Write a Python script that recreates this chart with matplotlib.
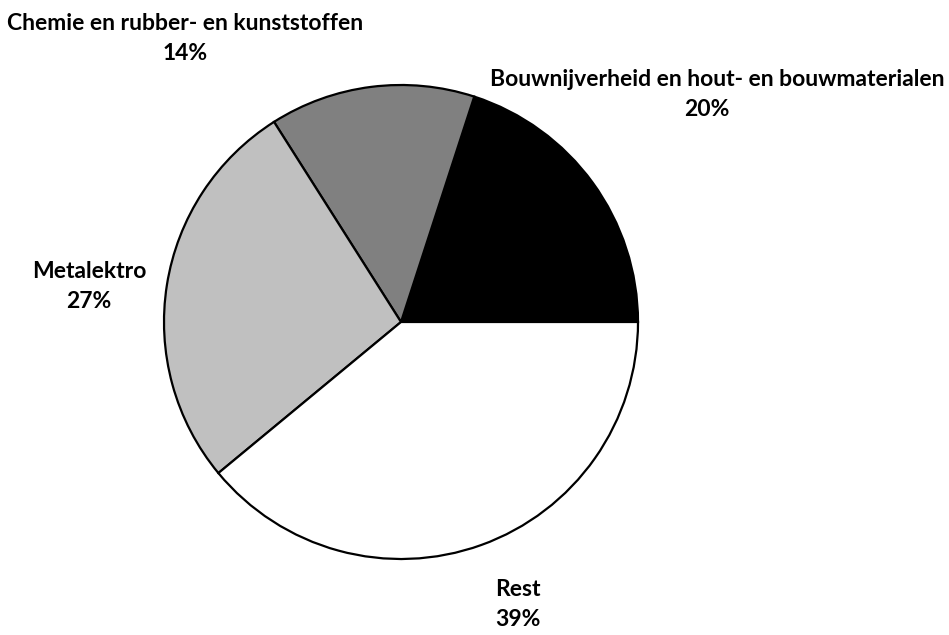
import matplotlib.pyplot as plt

labels = ['Bouwnijverheid en hout- en bouwmaterialen', 'Chemie en rubber- en kunststoffen',
          'Metalektro', 'Rest']
shares = [20, 14, 27, 39]
colors = ['#000000', '#808080', '#c0c0c0', '#ffffff']
# label anchor (pixel x, pixel y from top)
label_pos = [(717, 80), (185, 24), (89, 271), (518, 589)]

W, H = 949, 635
fig = plt.figure(figsize=(W / 100, H / 100), dpi=100)
ax = fig.add_axes([0, 0, 1, 1])

ax.pie(shares, colors=colors, startangle=0, counterclock=True,
       center=(401, H - 322), radius=237, frame=True,
       wedgeprops=dict(edgecolor='black', linewidth=1.6))
ax.set_xlim(0, W)
ax.set_ylim(0, H)
ax.set_aspect('equal')
ax.axis('off')

for lab, val, (x, y) in zip(labels, shares, label_pos):
    ax.text(x, H - y, lab, ha='center', va='center', fontsize=16.5,
            fontweight='bold', family='Lato')
    ax.text(x - (10 if val == 20 else 0), H - y - 30, '%d%%' % val, ha='center', va='center',
            fontsize=16.5, fontweight='bold', family='Lato')

fig.savefig('out.png', dpi=100)
